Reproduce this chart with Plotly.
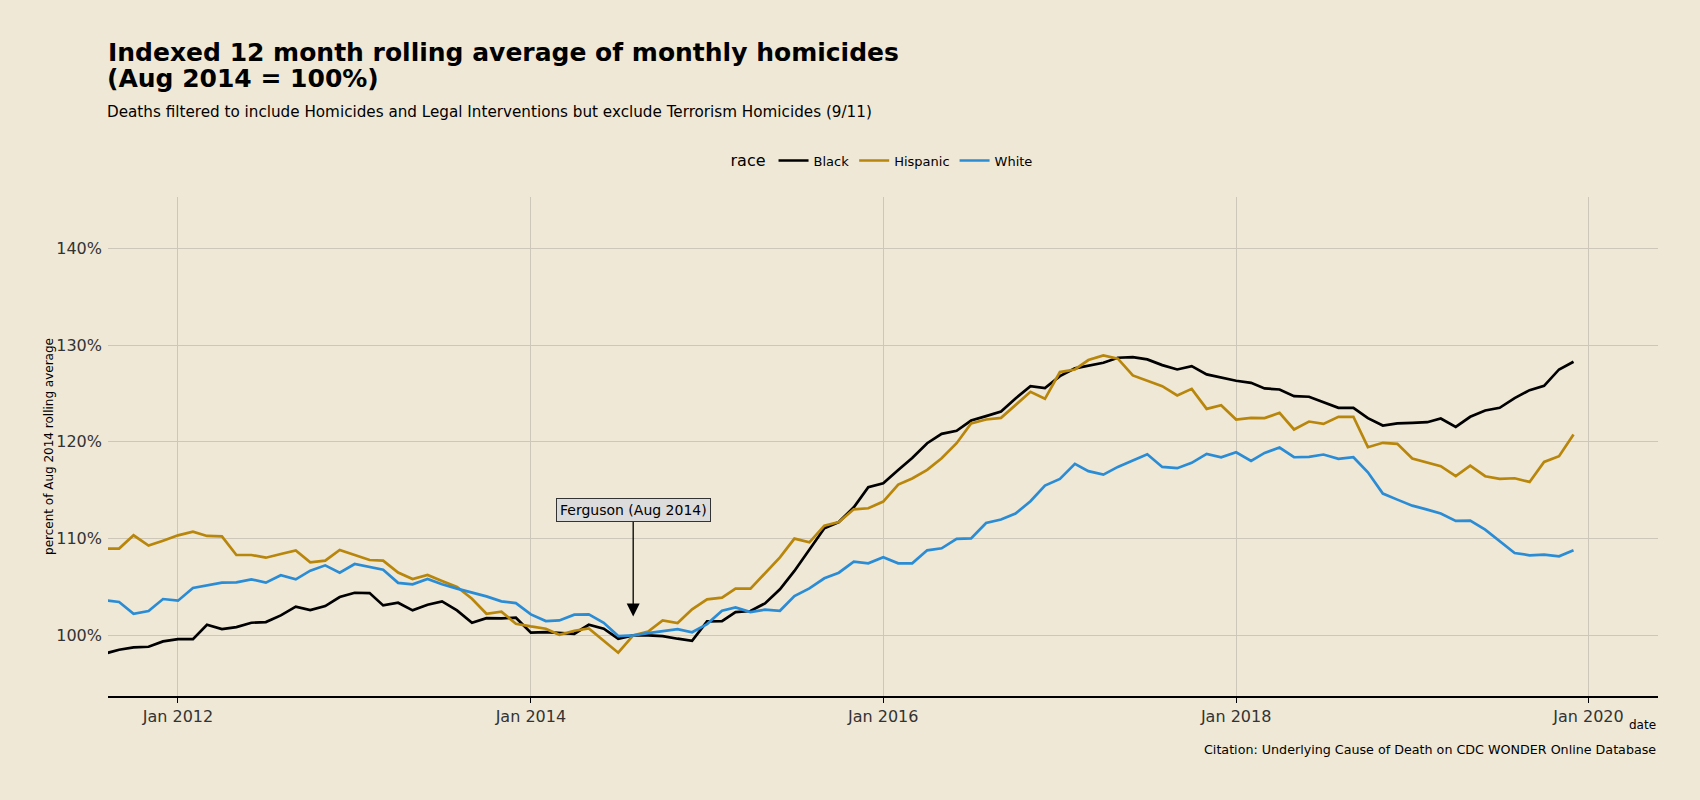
import pandas as pd
import plotly.graph_objects as go

dates = pd.date_range("2011-08-01", periods=101, freq="MS")

black = [98.10, 98.52, 98.76, 98.83, 99.38, 99.62, 99.62, 101.10, 100.66, 100.86,
         101.31, 101.38, 102.07, 102.97, 102.62, 103.03, 103.97, 104.41, 104.38, 103.10,
         103.38, 102.59, 103.17, 103.52, 102.59, 101.31, 101.79, 101.76, 101.83, 100.28,
         100.34, 100.24, 100.17, 101.10, 100.69, 99.66, 100.00, 100.00, 99.93, 99.66,
         99.45, 101.45, 101.48, 102.41, 102.52, 103.31, 104.76, 106.66, 108.90, 111.07,
         111.72, 113.24, 115.31, 115.72, 117.10, 118.34, 119.86, 120.83, 121.14, 122.20,
         122.66, 123.14, 124.48, 125.76, 125.55, 126.79, 127.59, 127.83, 128.17, 128.69,
         128.76, 128.52, 127.93, 127.48, 127.83, 126.97, 126.62, 126.31, 126.10, 125.52,
         125.41, 124.72, 124.66, 124.10, 123.52, 123.52, 122.45, 121.69, 121.90, 121.97,
         122.03, 122.41, 121.55, 122.59, 123.24, 123.52, 124.52, 125.34, 125.79, 127.48,
         128.28]

hispanic = [108.97, 108.97, 110.34, 109.28, 109.79, 110.34, 110.72, 110.28, 110.24, 108.31,
            108.31, 108.03, 108.41, 108.79, 107.55, 107.72, 108.83, 108.34, 107.79, 107.72,
            106.50, 105.83, 106.24, 105.62, 105.00, 103.79, 102.24, 102.45, 101.21, 100.93,
            100.69, 100.07, 100.48, 100.72, 99.48, 98.21, 100.00, 100.41, 101.55, 101.28,
            102.70, 103.72, 103.90, 104.83, 104.83, 106.41, 108.07, 110.00, 109.62, 111.34,
            111.72, 113.03, 113.14, 113.83, 115.59, 116.21, 117.10, 118.31, 119.86, 121.90,
            122.31, 122.48, 123.76, 125.17, 124.45, 127.21, 127.48, 128.45, 128.93, 128.59,
            126.86, 126.34, 125.76, 124.79, 125.48, 123.41, 123.79, 122.31, 122.48, 122.45,
            123.00, 121.28, 122.10, 121.86, 122.59, 122.59, 119.45, 119.90, 119.79, 118.28,
            117.90, 117.48, 116.45, 117.55, 116.45, 116.17, 116.24, 115.86, 117.93, 118.52,
            120.76]

white = [103.66, 103.45, 102.24, 102.52, 103.76, 103.59, 104.90, 105.17, 105.45, 105.48,
         105.79, 105.45, 106.21, 105.79, 106.69, 107.24, 106.48, 107.38, 107.03, 106.79,
         105.43, 105.28, 105.83, 105.28, 104.83, 104.41, 104.03, 103.52, 103.34, 102.17,
         101.48, 101.55, 102.14, 102.17, 101.31, 99.93, 100.00, 100.24, 100.48, 100.65,
         100.33, 101.17, 102.55, 102.90, 102.41, 102.66, 102.55, 104.07, 104.86, 105.90,
         106.48, 107.62, 107.45, 108.07, 107.45, 107.45, 108.79, 109.00, 109.97, 110.03,
         111.62, 111.97, 112.59, 113.86, 115.48, 116.17, 117.72, 116.97, 116.62, 117.41,
         118.07, 118.72, 117.41, 117.28, 117.83, 118.76, 118.41, 118.93, 118.03, 118.86,
         119.41, 118.41, 118.45, 118.69, 118.24, 118.41, 116.86, 114.66, 114.03, 113.41,
         113.00, 112.59, 111.83, 111.86, 110.93, 109.72, 108.52, 108.28, 108.34, 108.17,
         108.79]

y_ticks = [100, 110, 120, 130, 140]
y_tick_labels = ["100%", "110%", "120%", "130%", "140%"]

series = [("Black", black, "#000000"),
          ("Hispanic", hispanic, "#b8860b"),
          ("White", white, "#2b8cd6")]

FONT = "DejaVu Sans"
BG = "#efe8d6"

fig = go.Figure()
for name, vals, col in series:
    fig.add_trace(go.Scatter(x=dates, y=vals, mode="lines", name=name,
                             line=dict(color=col, width=2.7)))

fig.update_layout(
    width=1700, height=800,
    paper_bgcolor=BG, plot_bgcolor=BG,
    font=dict(family=FONT, color="#000000"),
    margin=dict(l=108, r=42, t=197, b=104),
    title=dict(text="<b>Indexed 12 month rolling average of monthly homicides</b>",
               x=0, xref="paper", xanchor="left", y=0.935, yref="container", yanchor="middle",
               font=dict(size=25, family=FONT, color="#000000")),
    legend=dict(orientation="h", x=0.5, xanchor="center", y=1.072, yanchor="middle",
                title=dict(text="race", font=dict(size=16)),
                font=dict(size=13), bgcolor="rgba(0,0,0,0)", itemwidth=30),
    showlegend=True,
)

fig.update_xaxes(
    range=["2011-08-09", "2020-05-24"],
    tick0="2012-01-01", dtick="M24", tickformat="%b %Y",
    showgrid=True, gridcolor="#cdc7b9", gridwidth=1,
    showline=True, linecolor="#000000", linewidth=1.5,
    ticks="outside", ticklen=5, tickcolor="#000000",
    tickfont=dict(size=16, color="#333333"),
    zeroline=False,
)
fig.update_yaxes(
    range=[93.74, 145.3],
    tickmode="array", tickvals=y_ticks, ticktext=y_tick_labels,
    showgrid=True, gridcolor="#cdc7b9", gridwidth=1,
    showline=False, ticks="", zeroline=False, ticklabelstandoff=5,
    tickfont=dict(size=16, color="#333333"),
    title=dict(text="percent of Aug 2014 rolling average", font=dict(size=12), standoff=0),
)

fig.add_annotation(text="<b>(Aug 2014 = 100%)</b>",
                   xref="paper", yref="paper", x=-0.002, y=1.2365, xanchor="left", yanchor="middle",
                   showarrow=False, font=dict(size=25, family=FONT, color="#000000"))
fig.add_annotation(text="Deaths filtered to include Homicides and Legal Interventions but exclude Terrorism Homicides (9/11)",
                   xref="paper", yref="paper", x=-0.002, y=1.170, xanchor="left", yanchor="middle",
                   showarrow=False, font=dict(size=15.2, family=FONT, color="#000000"))
fig.add_annotation(text="date", xref="paper", yref="paper", x=1, y=-0.058,
                   xanchor="right", yanchor="middle", showarrow=False,
                   font=dict(size=12, color="#000000"))
fig.add_annotation(text="Citation: Underlying Cause of Death on CDC WONDER Online Database",
                   xref="paper", yref="paper", x=1, y=-0.108,
                   xanchor="right", yanchor="middle", showarrow=False,
                   font=dict(size=12.7, color="#000000"))
fig.add_annotation(text="Ferguson (Aug 2014)", x=dates[36], y=black[36], xref="x", yref="y",
                   showarrow=True, ax=0, ay=-125, standoff=19,
                   arrowhead=2, arrowsize=2, arrowwidth=1.3, arrowcolor="#000000",
                   bgcolor="#dcdcdc", bordercolor="#333333", borderwidth=1, borderpad=3,
                   font=dict(size=14, color="#000000"))

fig.write_html("out.html", config={"displayModeBar": False},
               post_script="document.body.style.margin='0';document.body.style.background='#efe8d6';")
